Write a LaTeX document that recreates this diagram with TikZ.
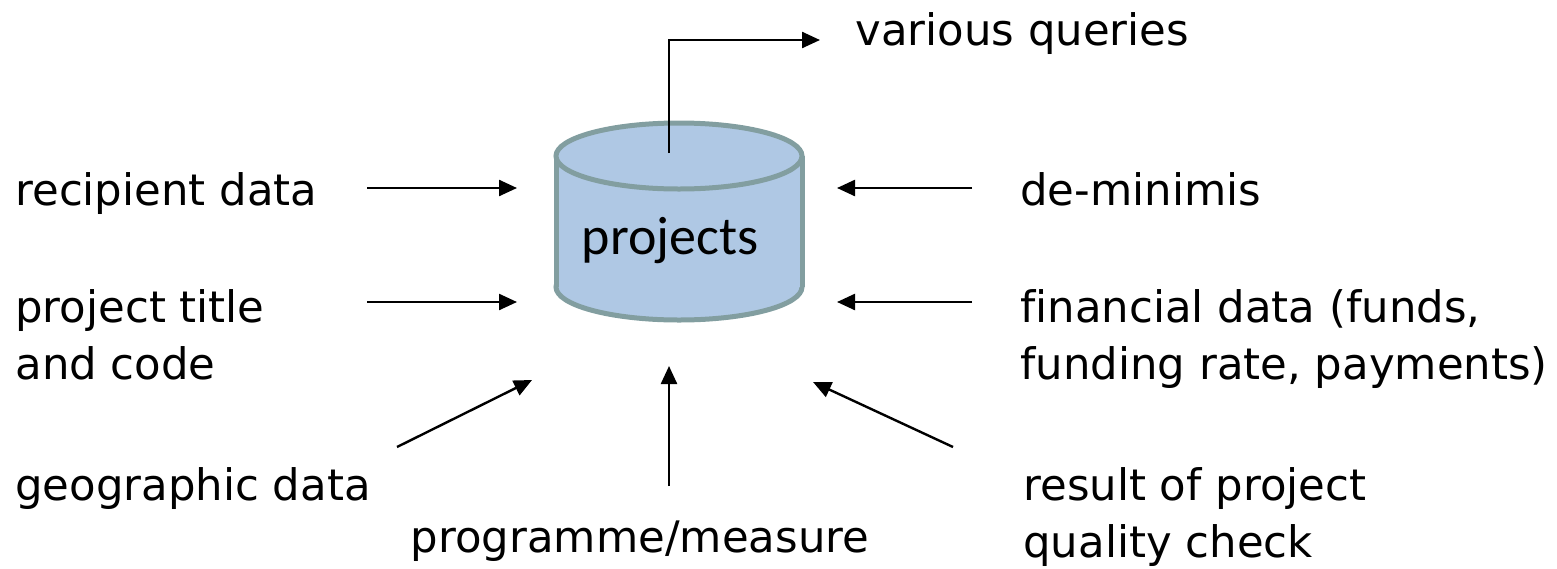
\documentclass[tikz,border=0pt]{standalone}
\usepackage{fontspec}
\setmainfont{DejaVu Sans}[Ligatures=NoCommon]
\newfontfamily\dbfont{Carlito}
\usetikzlibrary{arrows.meta}
\definecolor{dbfill}{RGB}{175,200,228}
\definecolor{dbline}{RGB}{130,158,160}
\tikzset{label/.style={font=\fontsize{21.7}{28.5}\selectfont,inner sep=0pt,align=left},
  flow/.style={line width=1.2pt,-{Triangle[length=9pt,width=8pt]}},
  dbpart/.style={fill=dbfill,draw=dbline,line width=2.5pt}}

\begin{document}
\begin{tikzpicture}[x=0.5pt,y=-0.5pt]
\useasboundingbox (0,0) rectangle (1557,568);
% the database
\path[dbpart] (679,287) ellipse (123 and 33);
\fill[dbfill] (556,156) rectangle (802,287);
\draw[dbline,line width=2.5pt] (556,156) -- (556,287) (802,156) -- (802,287);
\path[dbpart] (679,156) ellipse (123 and 33);
\node[font=\dbfont\fontsize{27}{32}\selectfont,inner sep=0pt,anchor=base] (db) at (670,254) {projects};
% labels
\node[label,anchor=base west] (qry) at (855,45) {various queries};
\node[label,anchor=base west] (rec) at (15,205) {recipient data};
\node[label,anchor=base west] (ttl) at (15,379) {project title\\and code};
\node[label,anchor=base west] (dem) at (1020,205) {de-minimis};
\node[label,anchor=base west] (fin) at (1020,379) {financial data (funds,\\funding rate, payments)};
\node[label,anchor=base west] (geo) at (15,500) {geographic data};
\node[label,anchor=base] (prg) at (640,552) {programme/measure};
\node[label,anchor=base west] (res) at (1023,557) {result of project\\quality check};
% arrow ends
\coordinate (qryA) at (669,153); \coordinate (qryB) at (820,40);
\coordinate (recA) at (367,188); \coordinate (recB) at (517,188);
\coordinate (ttlA) at (367,302); \coordinate (ttlB) at (517,302);
\coordinate (demA) at (972,188); \coordinate (demB) at (837,188);
\coordinate (finA) at (972,302); \coordinate (finB) at (837,302);
\coordinate (geoA) at (397,447); \coordinate (geoB) at (532,380);
\coordinate (prgA) at (669,486); \coordinate (prgB) at (669,366);
\coordinate (resA) at (953,447); \coordinate (resB) at (813,382);
\draw[flow] (qryA) |- (qryB);
\draw[flow] (recA) -- (recB);
\draw[flow] (ttlA) -- (ttlB);
\draw[flow] (demA) -- (demB);
\draw[flow] (finA) -- (finB);
\draw[flow] (geoA) -- (geoB);
\draw[flow] (prgA) -- (prgB);
\draw[flow] (resA) -- (resB);
\end{tikzpicture}
\end{document}
